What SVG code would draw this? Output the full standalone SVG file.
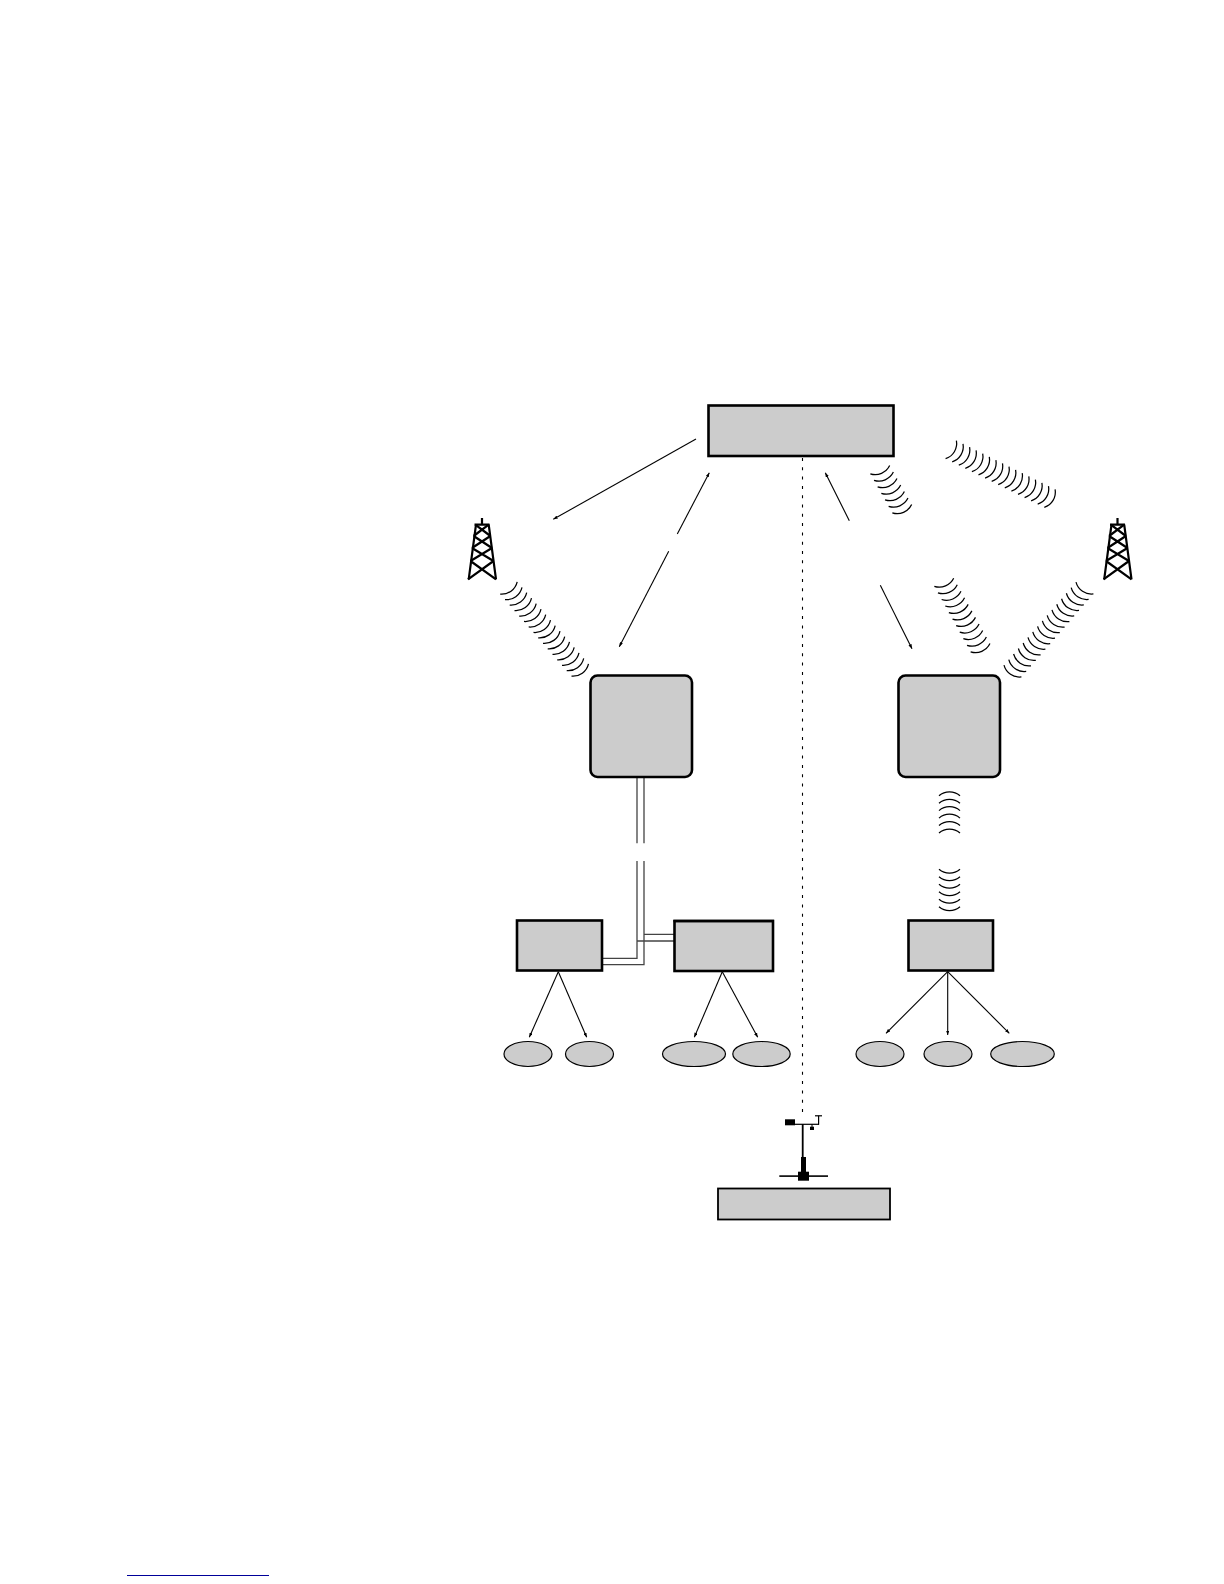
<svg xmlns="http://www.w3.org/2000/svg" width="1224" height="1584" viewBox="0 0 1224 1584">
<style>
.box{fill:#ccc;stroke:#000;stroke-width:2.6}
.leaf{fill:#ccc;stroke:#000;stroke-width:1.2}
.arr{fill:none;stroke:#000;stroke-width:1.1}
.cable{fill:none;stroke:#444;stroke-width:1.3}
.wave{fill:none;stroke:#000;stroke-width:1.25}
</style>
<defs>
<marker id="h" viewBox="0 0 8 6" refX="8" refY="3" markerWidth="4.5" markerHeight="3.4" markerUnits="userSpaceOnUse" orient="auto-start-reverse"><path d="M0,0L8,3L0,6z" fill="#000"/></marker>
<path id="a" class="wave" d="M0,-10.5A16,16 0 0 1 0,10.5"/>
<g id="tower" fill="none" stroke="#000" stroke-width="2.2">
<path d="M476,524.7L468.7,579.3M488.7,524.7L496,579.3M474.5,524.7H489.5M482,518V524.7"/>
<path d="M475.3,524.7L490.4,536M488.7,524.7L473.6,536M473.6,536L492,548M490.4,536L472,548M472,548L493.5,561M492,548L470.5,561M470.5,561L496,579.3M493.5,561L468,579.3"/>
</g>
</defs>
<g id="connectors">
<path class="arr" marker-end="url(#h)" d="M696,439L553.3,519.3"/>
<path class="arr" marker-start="url(#h)" d="M709.3,472.7L677.3,534"/>
<path class="arr" marker-end="url(#h)" d="M668.7,551.3L619.3,646.7"/>
<path class="arr" marker-start="url(#h)" d="M825.3,472.7L849.3,520.7"/>
<path class="arr" marker-end="url(#h)" d="M880.3,585.3L912,648.7"/>
<path class="arr" stroke-dasharray="3 6.3" d="M802.5,458V1118"/>
<path class="cable" d="M637,777V843.3M644,777V843.3M637,861V958.3H602.5M644,861V964.7H602.5M637,941H674M644,934.3H674"/>
<path class="arr" marker-end="url(#h)" d="M558.3,971.7L529.3,1037.3"/>
<path class="arr" marker-end="url(#h)" d="M558.3,971.7L586.7,1037.3"/>
<path class="arr" marker-end="url(#h)" d="M722.3,971.7L694.3,1037.3"/>
<path class="arr" marker-end="url(#h)" d="M722.3,971.7L757.7,1037.3"/>
<path class="arr" marker-end="url(#h)" d="M947.7,971.7L886,1033.3"/>
<path class="arr" marker-end="url(#h)" d="M947.7,971.7V1035"/>
<path class="arr" marker-end="url(#h)" d="M947.7,971.7L1009.3,1033.3"/>
</g>
<g id="wave-left">
<use href="#a" transform="translate(508.7,588) rotate(54)"/><use href="#a" transform="translate(513.5,593.5) rotate(54)"/><use href="#a" transform="translate(518.2,598.9) rotate(54)"/><use href="#a" transform="translate(523,604.4) rotate(54)"/><use href="#a" transform="translate(527.7,609.9) rotate(54)"/><use href="#a" transform="translate(532.5,615.3) rotate(54)"/><use href="#a" transform="translate(537.2,620.8) rotate(54)"/><use href="#a" transform="translate(542,626.3) rotate(54)"/><use href="#a" transform="translate(546.7,631.7) rotate(54)"/><use href="#a" transform="translate(551.5,637.2) rotate(54)"/><use href="#a" transform="translate(556.2,642.7) rotate(54)"/><use href="#a" transform="translate(561,648.1) rotate(54)"/><use href="#a" transform="translate(565.7,653.6) rotate(54)"/><use href="#a" transform="translate(570.5,659.1) rotate(54)"/><use href="#a" transform="translate(575.2,664.5) rotate(54)"/><use href="#a" transform="translate(580,670) rotate(54)"/>
</g>
<g id="wave-short">
<use href="#a" transform="translate(880,469.7) rotate(67)"/><use href="#a" transform="translate(883.7,476.2) rotate(67)"/><use href="#a" transform="translate(887.3,482.7) rotate(67)"/><use href="#a" transform="translate(891,489.2) rotate(67)"/><use href="#a" transform="translate(894.7,495.7) rotate(67)"/><use href="#a" transform="translate(898.3,502.2) rotate(67)"/><use href="#a" transform="translate(902,508.7) rotate(67)"/>
</g>
<g id="wave-long">
<use href="#a" transform="translate(951,449.7) rotate(31)"/><use href="#a" transform="translate(957.6,452.9) rotate(31)"/><use href="#a" transform="translate(964.2,456.2) rotate(31)"/><use href="#a" transform="translate(970.7,459.4) rotate(31)"/><use href="#a" transform="translate(977.3,462.7) rotate(31)"/><use href="#a" transform="translate(983.9,465.9) rotate(31)"/><use href="#a" transform="translate(990.5,469.1) rotate(31)"/><use href="#a" transform="translate(997.1,472.4) rotate(31)"/><use href="#a" transform="translate(1003.6,475.6) rotate(31)"/><use href="#a" transform="translate(1010.2,478.9) rotate(31)"/><use href="#a" transform="translate(1016.8,482.1) rotate(31)"/><use href="#a" transform="translate(1023.4,485.3) rotate(31)"/><use href="#a" transform="translate(1030,488.6) rotate(31)"/><use href="#a" transform="translate(1036.5,491.8) rotate(31)"/><use href="#a" transform="translate(1043.1,495.1) rotate(31)"/><use href="#a" transform="translate(1049.7,498.3) rotate(31)"/>
</g>
<g id="wave-mid">
<use href="#a" transform="translate(944,582.3) rotate(67)"/><use href="#a" transform="translate(947.6,588.8) rotate(67)"/><use href="#a" transform="translate(951.3,595.4) rotate(67)"/><use href="#a" transform="translate(954.9,601.9) rotate(67)"/><use href="#a" transform="translate(958.5,608.5) rotate(67)"/><use href="#a" transform="translate(962.2,615) rotate(67)"/><use href="#a" transform="translate(965.8,621.5) rotate(67)"/><use href="#a" transform="translate(969.4,628.1) rotate(67)"/><use href="#a" transform="translate(973,634.6) rotate(67)"/><use href="#a" transform="translate(976.7,641.2) rotate(67)"/><use href="#a" transform="translate(980.3,647.7) rotate(67)"/>
</g>
<g id="wave-right">
<use href="#a" transform="translate(1084.7,588) rotate(124)"/><use href="#a" transform="translate(1079.9,593.5) rotate(124)"/><use href="#a" transform="translate(1075.1,599.1) rotate(124)"/><use href="#a" transform="translate(1070.3,604.6) rotate(124)"/><use href="#a" transform="translate(1065.5,610.1) rotate(124)"/><use href="#a" transform="translate(1060.7,615.7) rotate(124)"/><use href="#a" transform="translate(1055.9,621.2) rotate(124)"/><use href="#a" transform="translate(1051.1,626.7) rotate(124)"/><use href="#a" transform="translate(1046.3,632.3) rotate(124)"/><use href="#a" transform="translate(1041.5,637.8) rotate(124)"/><use href="#a" transform="translate(1036.7,643.3) rotate(124)"/><use href="#a" transform="translate(1031.9,648.9) rotate(124)"/><use href="#a" transform="translate(1027.1,654.4) rotate(124)"/><use href="#a" transform="translate(1022.3,659.9) rotate(124)"/><use href="#a" transform="translate(1017.5,665.5) rotate(124)"/><use href="#a" transform="translate(1012.7,671) rotate(124)"/>
</g>
<g id="wave-down-upper">
<use href="#a" transform="translate(949.5,795.7) rotate(-90)"/><use href="#a" transform="translate(949.5,803.2) rotate(-90)"/><use href="#a" transform="translate(949.5,810.6) rotate(-90)"/><use href="#a" transform="translate(949.5,818.1) rotate(-90)"/><use href="#a" transform="translate(949.5,825.5) rotate(-90)"/><use href="#a" transform="translate(949.5,833) rotate(-90)"/>
</g>
<g id="wave-down-lower">
<use href="#a" transform="translate(949.5,869.3) rotate(90)"/><use href="#a" transform="translate(949.5,876.8) rotate(90)"/><use href="#a" transform="translate(949.5,884.3) rotate(90)"/><use href="#a" transform="translate(949.5,891.7) rotate(90)"/><use href="#a" transform="translate(949.5,899.2) rotate(90)"/><use href="#a" transform="translate(949.5,906.7) rotate(90)"/>
</g>
<g id="tower-left"><use href="#tower"/></g>
<g id="tower-right"><use href="#tower" transform="translate(635.5,0)"/></g>
<g id="node-top"><rect class="box" x="708.5" y="405.5" width="185" height="50.5"/></g>
<g id="node-hub-left"><rect class="box" x="590.5" y="675.5" width="101.5" height="101.5" rx="7"/></g>
<g id="node-hub-right"><rect class="box" x="898.5" y="675.5" width="101.5" height="101.5" rx="7"/></g>
<g id="node-box-a"><rect class="box" x="517" y="920.5" width="85" height="50"/></g>
<g id="node-box-b"><rect class="box" x="674.5" y="921" width="98.5" height="50"/><rect x="673.5" y="919.8" width="100.5" height="2.4" fill="#000"/></g>
<g id="node-box-c"><rect class="box" x="908.5" y="920.5" width="84.5" height="50"/></g>
<g id="node-base"><rect class="box" style="stroke-width:1.8" x="718" y="1188.5" width="172" height="31"/></g>
<g id="leaf-1"><ellipse class="leaf" cx="528" cy="1054" rx="24" ry="12.5"/></g>
<g id="leaf-2"><ellipse class="leaf" cx="589.5" cy="1054" rx="24" ry="12.5"/></g>
<g id="leaf-3"><ellipse class="leaf" cx="694" cy="1054" rx="31.5" ry="12.5"/></g>
<g id="leaf-4"><ellipse class="leaf" cx="761.5" cy="1054" rx="28.7" ry="12.5"/></g>
<g id="leaf-5"><ellipse class="leaf" cx="880" cy="1054" rx="24" ry="12.5"/></g>
<g id="leaf-6"><ellipse class="leaf" cx="948" cy="1054" rx="24" ry="12.5"/></g>
<g id="leaf-7"><ellipse class="leaf" cx="1022.5" cy="1054" rx="31.8" ry="12.5"/></g>
<g id="weather-mast" fill="#000">
<rect x="785" y="1119.3" width="10" height="6"/>
<rect x="795" y="1123.7" width="24" height="1.2"/>
<rect x="818" y="1115.7" width="1.2" height="9"/>
<rect x="815" y="1115.2" width="7" height="1.2"/>
<rect x="811.5" y="1124" width="1" height="3"/>
<rect x="810" y="1126.7" width="4" height="3.3"/>
<rect x="801.8" y="1124" width="1.8" height="33"/>
<rect x="801" y="1157" width="5" height="15"/>
<rect x="798" y="1171.7" width="11" height="9"/>
<rect x="779.3" y="1175.3" width="48.7" height="1.6"/>
</g>
<path id="footnote-rule" d="M127,1575.5H269" stroke="#009" stroke-width="1" fill="none"/>
</svg>
